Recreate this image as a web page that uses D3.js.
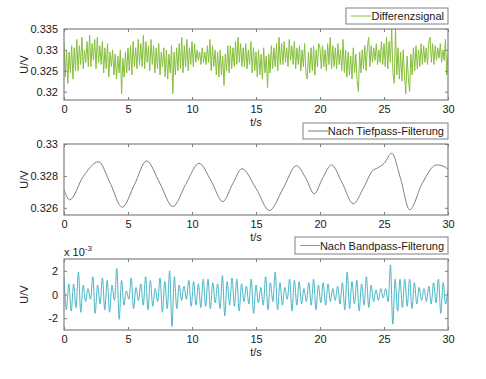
<!DOCTYPE html>
<html><head><meta charset="utf-8">
<script src="https://cdn.jsdelivr.net/npm/d3@7"></script>
<style>body{margin:0;background:#fff}svg{display:block}text{font-family:"Liberation Sans",Arial,sans-serif;fill:#1a1a1a}</style>
</head><body><div id="chart"></div>
<script>
// ---- data ----
const timeTicks = [0,5,10,15,20,25,30];
const rawTicks = [0.32,0.325,0.33,0.335];
const rawTickLabels = ["0.32","0.325","0.33","0.335"];
const lowTicks = [0.326,0.328,0.33];
const lowTickLabels = ["0.326","0.328","0.33"];
const bandTicks = [-2,0,2];
const bandTickLabels = ["-2","0","2"];
const seriesNames = ["Differenzsignal","Nach Tiefpass-Filterung","Nach Bandpass-Filterung"];

// Differenzsignal in mV, sampled every 0.1 s
const rawStep = 0.1;
const rawMV = [
332.0,323.5,330.0,322.0,329.5,324.5,331.0,323.0,330.5,325.0,
332.5,325.0,331.0,326.5,333.0,325.5,330.0,327.0,332.0,326.0,
333.5,326.0,331.5,327.5,332.5,325.5,333.0,327.0,331.0,326.5,
332.0,324.5,330.5,325.5,331.5,323.5,329.5,326.0,330.0,324.0,
329.0,323.0,328.5,324.5,330.0,319.5,328.0,323.5,329.5,324.5,
330.5,325.0,331.0,324.0,332.0,326.0,330.5,325.5,332.5,326.5,
331.5,326.0,333.5,325.5,332.0,327.0,331.0,325.0,332.5,326.5,
331.0,324.5,330.5,325.5,331.5,324.0,329.5,326.0,330.5,323.5,
330.0,323.0,329.0,324.5,331.0,319.5,329.5,324.0,330.5,325.0,
331.5,325.5,333.0,324.5,331.0,326.0,332.5,325.0,330.5,326.5,
332.0,326.0,331.5,327.0,330.0,327.5,329.5,326.5,330.5,327.0,
329.5,326.5,331.0,327.0,332.5,325.0,331.0,326.0,330.0,324.0,
329.5,323.5,330.0,324.0,328.5,321.5,329.0,325.0,331.0,324.5,
331.0,325.5,330.5,326.0,332.0,326.5,333.0,327.0,331.5,326.0,
330.5,326.0,331.5,325.5,330.0,326.5,332.0,324.5,330.5,325.0,
329.5,323.5,330.0,324.0,329.0,323.0,330.5,324.5,328.5,321.0,
329.0,324.5,331.0,325.5,330.5,326.0,331.5,325.0,333.0,326.5,
331.5,326.5,332.0,327.0,330.5,326.0,332.5,327.5,331.0,326.5,
332.0,325.5,330.5,326.5,331.0,325.0,330.0,326.0,331.5,324.5,
323.0,329.5,324.5,330.5,325.0,331.0,324.0,330.0,326.0,331.5,
330.5,325.5,331.0,326.0,330.0,325.0,331.5,326.5,333.0,325.5,
331.0,326.0,330.5,325.5,331.5,326.5,330.0,325.0,332.5,324.5,
330.0,323.5,329.5,324.0,328.5,323.0,330.5,324.5,329.0,322.5,
320.0,329.5,324.5,330.0,325.5,331.0,325.0,330.5,333.0,326.0,
331.0,327.0,330.5,327.5,331.5,326.5,330.0,327.0,332.0,326.5,
331.5,326.0,333.0,325.5,332.0,327.0,335.0,324.5,322.0,335.0,
324.0,330.5,323.0,329.5,322.5,330.0,324.0,319.5,328.5,323.5,
320.0,329.0,324.0,330.5,325.0,331.0,325.5,330.0,326.0,331.5,
326.5,331.0,327.0,330.5,326.5,332.0,333.0,327.0,331.5,326.5,
331.0,327.5,330.5,328.0,331.5,327.0,330.0,327.5,332.5,324.0,
329.0
];

// Tiefpass: knot times (s) and values (V)
const lowT = [0,0.45,1.5,2.7,3.6,4.55,5.5,6.45,7.5,8.5,9.5,10.55,11.5,12.4,13.2,13.9,15.0,16.05,17.1,18.15,18.9,19.55,20.2,20.9,21.7,22.6,23.4,24.1,24.5,25.0,25.6,26.3,27.0,28.0,29.1,29.6,30];
const lowV = [0.32713,0.3265,0.32796,0.32889,0.32756,0.32604,0.32745,0.32894,0.32752,0.32608,0.32745,0.32879,0.32768,0.32639,0.32754,0.32845,0.32722,0.32583,0.32718,0.32864,0.32785,0.32688,0.32785,0.32869,0.32762,0.32625,0.32725,0.32832,0.3285,0.32878,0.32942,0.32782,0.32588,0.32755,0.32869,0.32862,0.32842];

// Bandpass extrema (x 10^-3 V), every 0.1875 s
const bandStep = 0.1875;
const bandV = [
1.5,-1.3,0.9,-1.4,0.9,-1.1,1.9,-1.5,
0.8,-0.6,0.5,-0.4,1.5,-1.6,0.8,-0.8,
1.4,-1.3,1.2,-1.5,0.8,-0.5,2.2,-2.1,
1.2,-0.9,0.3,-0.4,1.4,-1.2,0.6,-0.5,
0.9,-0.9,1.5,-1.3,1.2,-1.0,0.5,-0.6,
1.4,-1.5,1.1,-1.2,2.0,-2.7,1.5,-1.2,
0.8,-0.5,0.7,-0.4,1.2,-1.0,1.1,-0.9,
0.9,-1.1,1.3,-1.0,1.3,-1.2,1.0,-0.7,
0.9,-1.2,1.6,-1.8,1.1,-0.9,1.4,-1.0,
1.3,-1.4,0.9,-0.6,0.7,-0.8,1.3,-1.6,
0.8,-0.7,0.6,-0.9,1.5,-1.3,1.0,-0.6,
1.9,-1.3,1.0,-0.9,0.6,-0.4,1.3,-1.4,
1.2,-0.9,1.1,-0.8,0.5,-0.6,1.0,-0.9,
1.3,-1.3,0.8,-0.7,1.0,-0.9,0.9,-0.6,
0.5,-0.5,0.7,-0.8,1.0,-1.3,1.9,-1.2,
1.1,-0.8,1.2,-1.4,0.9,-0.9,1.5,-1.1,
0.8,-0.6,0.4,-0.5,0.5,-0.3,0.5,-0.6,
2.5,-2.5,1.3,-1.4,1.3,-1.1,1.3,-1.0,
1.3,-1.2,1.0,-0.8,0.6,-0.5,0.5,-0.6,
0.7,-0.8,1.0,-0.7,1.3,-1.6,1.0,-0.8,
0.4
];

// ---- drawing ----
const W = 486, H = 379;
const svg = d3.select("#chart").append("svg").attr("width", W).attr("height", H);
const left = 64, right = 448;
const frameColor = "#808080";
const x = d3.scaleLinear().domain([0,30]).range([left,right]);

const panels = [
  {top:29, bottom:100, domain:[0.318,0.335], ticks:rawTicks, labels:rawTickLabels,
   data: rawMV.map((v,i)=>({t:i*rawStep, v:v/1000})), color:"#86bf3c", curve:d3.curveLinear, width:1,
   legend:{x0:346, y0:8, x1:448, y1:24}},
  {top:144, bottom:215, domain:[0.32555,0.33], ticks:lowTicks, labels:lowTickLabels,
   data: lowT.map((t,i)=>({t:t, v:lowV[i]})), color:"#7f7f7f", curve:d3.curveMonotoneX, width:1,
   legend:{x0:303, y0:123, x1:448, y1:139}},
  {top:259, bottom:330, domain:[-3,3], ticks:bandTicks, labels:bandTickLabels,
   data: bandV.map((v,i)=>({t:i*bandStep, v:v})), color:"#48b5c6", curve:d3.curveCatmullRom, width:1,
   legend:{x0:295, y0:237, x1:448, y1:254}}
];

panels.forEach((p, k) => {
  const y = d3.scaleLinear().domain(p.domain).range([p.bottom, p.top]);
  const g = svg.append("g");
  const cid = "clip" + k;
  svg.append("clipPath").attr("id", cid).append("rect")
    .attr("x", left).attr("y", p.top).attr("width", right-left).attr("height", p.bottom-p.top);
  const line = d3.line().x(d=>x(d.t)).y(d=>y(d.v)).curve(p.curve);
  g.append("path").datum(p.data).attr("clip-path", `url(#${cid})`)
    .attr("d", line).attr("fill","none").attr("stroke", p.color).attr("stroke-width", p.width);

  const xb = d3.axisBottom(x).tickValues(timeTicks).tickSize(-3).tickPadding(5).tickFormat(d3.format("d"));
  const xt = d3.axisTop(x).tickValues(timeTicks).tickSize(-3).tickFormat("");
  const yl = d3.axisLeft(y).tickValues(p.ticks).tickSize(-3).tickPadding(6).tickFormat((d,i)=>p.labels[i]);
  const yr = d3.axisRight(y).tickValues(p.ticks).tickSize(-3).tickFormat("");
  const axes = [
    g.append("g").attr("transform",`translate(0,${p.bottom})`).call(xb),
    g.append("g").attr("transform",`translate(0,${p.top})`).call(xt),
    g.append("g").attr("transform",`translate(${left},0)`).call(yl),
    g.append("g").attr("transform",`translate(${right},0)`).call(yr)
  ];
  axes.forEach(a => {
    a.select(".domain").remove();
    a.selectAll(".tick line").attr("stroke", frameColor);
    a.selectAll(".tick text").attr("font-size", 11).attr("font-family", '"Liberation Sans",Arial,sans-serif').attr("fill","#1a1a1a");
  });
  g.append("rect").attr("x", left).attr("y", p.top).attr("width", right-left).attr("height", p.bottom-p.top)
    .attr("fill","none").attr("stroke", frameColor).attr("stroke-width", 1.2);
  g.append("text").attr("x", (left+right)/2).attr("y", p.bottom + 26).attr("text-anchor","middle")
    .attr("font-size", 11).text("t/s");
  g.append("text").attr("transform", `translate(28,${(p.top+p.bottom)/2}) rotate(-90)`)
    .attr("text-anchor","middle").attr("font-size", 11).text("U/V");
  const L = p.legend;
  g.append("rect").attr("x", L.x0).attr("y", L.y0).attr("width", L.x1-L.x0).attr("height", L.y1-L.y0)
    .attr("fill","#fff").attr("stroke", frameColor).attr("stroke-width", 1);
  const ly = (L.y0+L.y1)/2;
  g.append("line").attr("x1", L.x0+5).attr("x2", L.x0+25).attr("y1", ly).attr("y2", ly)
    .attr("stroke", p.color).attr("stroke-width", 1);
  g.append("text").attr("x", L.x1-4).attr("y", ly+4).attr("text-anchor","end")
    .attr("font-size", 11).text(seriesNames[k]);
});

const ex = svg.append("text").attr("x", 64).attr("y", 256).attr("font-size", 11);
ex.append("tspan").text("x 10");
ex.append("tspan").attr("dy", -5).attr("font-size", 8).text("-3");
</script>
</body></html>
